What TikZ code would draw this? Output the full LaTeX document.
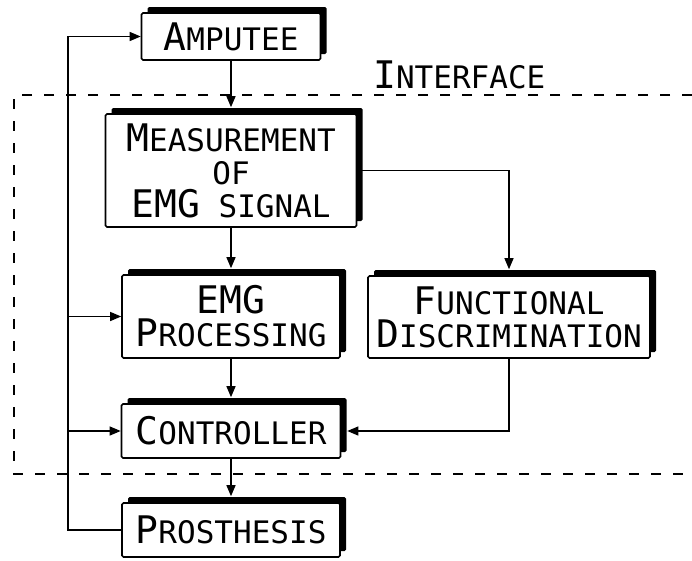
\documentclass[tikz,border=0pt]{standalone}
\usepackage{fontspec}
\newfontfamily\leroy{DejaVu Sans Mono}
\usetikzlibrary{arrows.meta,shadows}
% first letter of a small-caps word
\newcommand{\bigc}[1]{{\fontsize{38}{40}\selectfont #1}}

\begin{document}
\begin{tikzpicture}[x=1pt,y=-1pt,
  block/.style={draw,line width=1.6pt,rounded corners=1.5pt,fill=white,
    general shadow={shadow xshift=6pt,shadow yshift=6pt,fill=black},
    font=\leroy\fontsize{31}{33}\selectfont,align=center,inner sep=0pt},
  link/.style={line width=1.2pt,-{Triangle[length=11pt,width=9pt]}},
  iface/.style={line width=1.6pt,dash pattern=on 10pt off 12pt}]
\useasboundingbox (0,0) rectangle (692,560);

% interface frame
\draw[iface] (692,95) -- (14,95) -- (14,474) -- (692,474);
\node[font=\leroy\fontsize{31}{33}\selectfont,anchor=base west,inner sep=0pt] (ifacelabel) at (373,88) {\bigc{I}NTERFACE};

% blocks
\node[block,minimum width=179pt,minimum height=47pt] (amputee) at (231,36.5) {\bigc{A}MPUTEE};
\node[block,minimum width=251pt,minimum height=113pt] (measure) at (231,170.5) {\bigc{M}EASUREMENT\\OF\\\bigc{EMG} SIGNAL};
\node[block,minimum width=218pt,minimum height=83pt] (emgproc) at (231,316.5) {\bigc{EMG}\\\bigc{P}ROCESSING};
\node[block,minimum width=282pt,minimum height=82pt] (func) at (509,317) {\bigc{F}UNCTIONAL\\\bigc{D}ISCRIMINATION};
\node[block,minimum width=219pt,minimum height=54pt] (controller) at (231,431) {\bigc{C}ONTROLLER};
\node[block,minimum width=218pt,minimum height=54pt] (prosthesis) at (231,530) {\bigc{P}ROSTHESIS};

% signal path
\draw[link] (amputee.south) -- ([yshift=6pt]measure.north);
\draw[link] (measure.south) -- ([yshift=6pt]emgproc.north);
\draw[link] (measure.east) -| ([yshift=6pt]func.north);
\draw[link] (emgproc.south) -- ([yshift=6pt]controller.north);
\draw[link] (func.south) |- ([xshift=6pt]controller.east);
\draw[link] (controller.south) -- ([yshift=6pt]prosthesis.north);

% feedback
\coordinate (fb) at (68,530);
\draw[link] (prosthesis.west) -- (prosthesis.west -| fb) |- (amputee.west);
\draw[link] (emgproc.west -| fb) -- (emgproc.west);
\draw[link] (controller.west -| fb) -- (controller.west);
\end{tikzpicture}
\end{document}
